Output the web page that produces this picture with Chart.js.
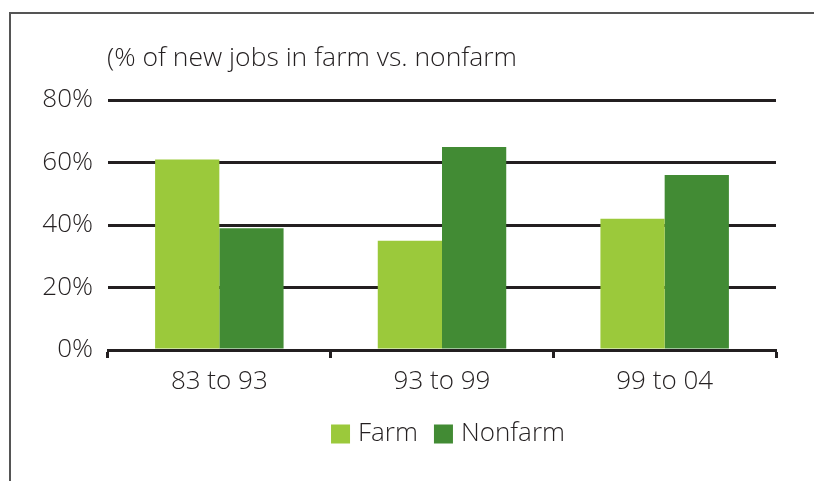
<!DOCTYPE html>
<html lang="en">

<head>
    <meta charset="UTF-8">
    <script src="https://cdn.jsdelivr.net/npm/chart.js@4.4.0/dist/chart.umd.min.js"></script>
    <style>
        html, body { margin: 0; padding: 0; background: #fff; }
        #wrap { width: 814px; height: 481px; }
    </style>
</head>

<body>
    <div id="wrap"><canvas id="myChart" width="814" height="481"></canvas></div>
    <script>
        // data
        const periods = ['83 to 93', '93 to 99', '99 to 04'];
        const farm = [61, 35, 42];
        const nonfarm = [39, 65, 56];
        const yTicks = [0, 20, 40, 60, 80];
        const titleText = '(% of new jobs in farm vs. nonfarm';

        const textColor = '#231f20';
        const lineColor = '#231f20';
        const fontFamily = '"Open Sans", "Noto Sans", sans-serif';

        // outer frame + title + legend drawn by hand
        const decor = {
            id: 'decor',
            beforeDraw(chart) {
                const c = chart.ctx;
                c.save();
                c.strokeStyle = '#555';
                c.lineWidth = 2;
                c.beginPath();
                c.moveTo(10, 481);
                c.lineTo(10, 13);
                c.lineTo(814, 13);
                c.stroke();
                c.restore();
            },
            afterDraw(chart) {
                const c = chart.ctx;
                const area = chart.chartArea;
                c.save();
                c.fillStyle = textColor;
                c.font = '300 26.5px ' + fontFamily;
                c.textBaseline = 'middle';
                c.textAlign = 'left';
                c.fillText(titleText, area.left - 1, 58);

                // legend
                c.font = '300 26px ' + fontFamily;
                const ds = chart.data.datasets;
                const box = 19, gap = 8, between = 16;
                let total = 0;
                const widths = ds.map(d => c.measureText(d.label).width);
                widths.forEach(w => total += box + gap + w);
                total += between * (ds.length - 1);
                let x = (area.left + area.right) / 2 - total / 2 + 6;
                const y = 434;
                ds.forEach((d, i) => {
                    c.fillStyle = d.backgroundColor;
                    c.fillRect(x, y - box / 2, box, box);
                    c.fillStyle = textColor;
                    c.fillText(d.label, x + box + gap, y);
                    x += box + gap + widths[i] + between;
                });
                c.restore();
            }
        };

        const ctx = document.getElementById('myChart');

        new Chart(ctx, {
            type: 'bar',
            data: {
                labels: periods,
                datasets: [{
                        label: 'Farm',
                        data: farm,
                        backgroundColor: '#9bc93b',
                        borderWidth: 0,
                        categoryPercentage: 0.577,
                        barPercentage: 1
                    },
                    {
                        label: 'Nonfarm',
                        data: nonfarm,
                        backgroundColor: '#428b34',
                        borderWidth: 0,
                        categoryPercentage: 0.577,
                        barPercentage: 1
                    }
                ]
            },
            options: {
                responsive: false,
                animation: false,
                layout: {
                    padding: { top: 100, right: 38, bottom: 0, left: 0 }
                },
                plugins: {
                    legend: { display: false },
                    title: { display: false },
                    tooltip: { enabled: false }
                },
                scales: {
                    x: {
                        grid: {
                            offset: true,
                            drawOnChartArea: false,
                            drawTicks: true,
                            tickLength: 8,
                            tickWidth: 3,
                            tickColor: lineColor
                        },
                        border: { display: true, color: lineColor, width: 3 },
                        ticks: {
                            color: textColor,
                            padding: 8,
                            font: { family: fontFamily, size: 26, weight: 300 }
                        },
                        afterFit(scale) {
                            scale.height = 131;
                        }
                    },
                    y: {
                        min: 0,
                        max: 80,
                        afterBuildTicks(scale) {
                            scale.ticks = yTicks.map(v => ({ value: v }));
                        },
                        grid: {
                            color: lineColor,
                            lineWidth: 3,
                            drawTicks: false
                        },
                        border: { display: false },
                        ticks: {
                            color: textColor,
                            padding: 15,
                            font: { family: fontFamily, size: 26, weight: 300 },
                            callback: v => v + '%'
                        },
                        afterFit(scale) {
                            scale.width = 108;
                        }
                    }
                }
            },
            plugins: [decor]
        });
    </script>
</body>

</html>
